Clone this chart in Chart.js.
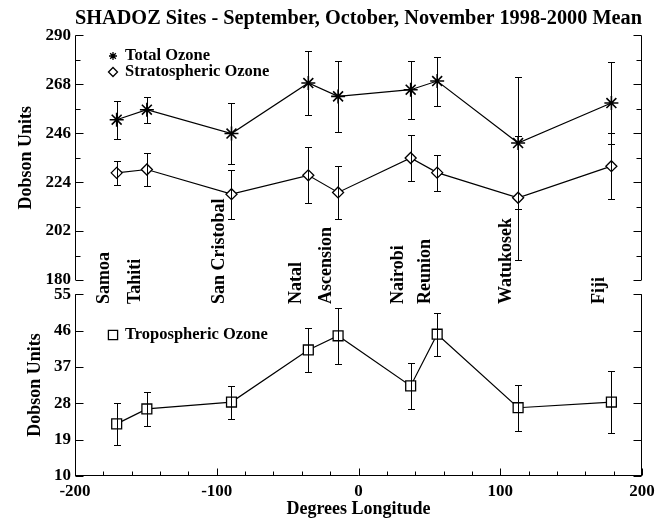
<!DOCTYPE html>
<html>
<head>
<meta charset="utf-8">
<script src="https://cdn.jsdelivr.net/npm/chart.js@4.4.0/dist/chart.umd.min.js"></script>
<style>
  body { margin: 0; background: #fff; }
  #marco { position: relative; width: 666px; height: 518px; }
  #marco canvas { position: absolute; left: 0; }
  #graficoArriba { top: 0; }
  #graficoAbajo { top: 280px; }
</style>
</head>
<body>
<div id="marco">
  <canvas id="graficoArriba" width="666" height="310"></canvas>
  <canvas id="graficoAbajo" width="666" height="238"></canvas>
</div>
<script>
// Datos (medias SON 1998-2000)
const estaciones = ['Samoa', 'Tahiti', 'San Cristobal', 'Natal', 'Ascension', 'Nairobi', 'Reunion', 'Watukosek', 'Fiji'];
const longitudes = [-170.6, -149.3, -89.6, -35.4, -14.4, 36.8, 55.5, 112.6, 178.4];

const ozonoTotal = [252.1, 256.6, 245.9, 268.6, 262.6, 265.6, 269.5, 241.6, 259.6];
const errorTotal = [8.6, 5.9, 13.8, 14.4, 16.0, 13.0, 11.0, 29.5, 18.3];
const ozonoEstrat = [228.2, 229.7, 218.6, 227.1, 219.4, 234.9, 228.3, 217.0, 231.2];
const errorEstrat = [5.4, 7.4, 11.0, 12.6, 12.0, 10.3, 8.1, 28.0, 14.8];
const ozonoTropo = [22.9, 26.6, 28.3, 41.2, 44.7, 32.3, 45.1, 26.9, 28.3];
const errorTropo = [5.2, 4.3, 4.1, 5.5, 7.0, 5.7, 5.3, 5.7, 7.7];

// Marcas de los ejes
const ticksArriba = [180, 202, 224, 246, 268, 290];
const ticksAbajo = [10, 19, 28, 37, 46, 55];
const ticksX = [-200, -100, 0, 100, 200];

const FUENTE = '"Liberation Serif", "Times New Roman", serif';
Chart.defaults.font.family = FUENTE;
Chart.defaults.font.weight = 'bold';
Chart.defaults.color = '#000';

function etiqueta(lista) {
    return (v) => lista.some(t => Math.abs(t - v) < 1e-6) ? String(v) : '';
}

function puntos(valores) {
    return longitudes.map((x, i) => ({ x: x, y: valores[i] }));
}

// Barras de error verticales con pequenos topes
const barrasError = {
    id: 'barrasError',
    afterDatasetsDraw(chart) {
        const { ctx } = chart;
        const x = chart.scales.x, y = chart.scales.y;
        ctx.save();
        ctx.strokeStyle = '#000';
        ctx.lineWidth = 1;
        chart.data.datasets.forEach(ds => {
            if (!ds.errores) return;
            ds.data.forEach((p, i) => {
                const px = Math.round(x.getPixelForValue(p.x)) + 0.5;
                const y1 = Math.round(y.getPixelForValue(p.y + ds.errores[i])) + 0.5;
                const y2 = Math.round(y.getPixelForValue(p.y - ds.errores[i])) + 0.5;
                ctx.beginPath();
                ctx.moveTo(px, y1); ctx.lineTo(px, y2);
                ctx.moveTo(px - 3.5, y1); ctx.lineTo(px + 3.5, y1);
                ctx.moveTo(px - 3.5, y2); ctx.lineTo(px + 3.5, y2);
                ctx.stroke();
            });
        });
        ctx.restore();
    }
};

// Ejes con marcas hacia dentro, leyenda y nombres de estaciones
const decoracion = {
    id: 'decoracion',
    afterDraw(chart, args, opts) {
        const { ctx, chartArea: a } = chart;
        const x = chart.scales.x, y = chart.scales.y;
        const L = Math.round(a.left) + 0.5, R = Math.round(a.right) - 0.5;
        const B = Math.round(a.bottom) - 0.5;
        ctx.save();
        ctx.strokeStyle = '#000';
        ctx.lineWidth = 1;
        ctx.beginPath();
        ctx.moveTo(L, a.top); ctx.lineTo(L, a.bottom);
        ctx.moveTo(R, a.top); ctx.lineTo(R, a.bottom);
        y.ticks.forEach(t => {
            const py = Math.round(y.getPixelForValue(t.value)) + 0.5;
            const largo = t.label !== '' ? 8 : 5;
            ctx.moveTo(L, py); ctx.lineTo(L + largo, py);
            ctx.moveTo(R, py); ctx.lineTo(R - largo, py);
        });
        if (opts.ejeX) {
            ctx.moveTo(L, B); ctx.lineTo(R, B);
            x.ticks.forEach(t => {
                const px = Math.round(x.getPixelForValue(t.value)) + 0.5;
                const largo = t.label !== '' ? 7 : 4;
                ctx.moveTo(px, B); ctx.lineTo(px, B - largo);
            });
        }
        ctx.stroke();

        // Leyenda
        ctx.font = 'bold 16.5px ' + FUENTE;
        ctx.textAlign = 'left';
        ctx.textBaseline = 'middle';
        ctx.fillStyle = '#000';
        (opts.leyenda || []).forEach(item => {
            ctx.save();
            ctx.fillStyle = '#fff';
            ctx.strokeStyle = '#000';
            ctx.lineWidth = 1.3;
            Chart.helpers.drawPoint(ctx, { pointStyle: item.estilo, radius: item.radio, rotation: 0, borderWidth: 1.3 }, item.x, item.y);
            ctx.restore();
            ctx.fillText(item.texto, item.x + 12, item.y);
        });

        // Nombres de las estaciones, verticales
        if (opts.estaciones) {
            ctx.font = 'bold 18px ' + FUENTE;
            estaciones.forEach((nombre, i) => {
                const px = x.getPixelForValue(longitudes[i]) - 12;
                ctx.save();
                ctx.translate(px, 304);
                ctx.rotate(-Math.PI / 2);
                ctx.fillText(nombre, 0, 0);
                ctx.restore();
            });
        }
        ctx.restore();
    }
};

function estiloSerie(etiquetaSerie, valores, errores, estilo, radio, grosor) {
    return {
        label: etiquetaSerie,
        data: puntos(valores),
        errores: errores,
        borderColor: '#000',
        borderWidth: 1.2,
        pointStyle: estilo,
        pointRadius: radio,
        pointBorderWidth: grosor,
        pointBorderColor: '#000',
        pointBackgroundColor: '#fff',
        fill: false,
        tension: 0
    };
}

// Panel superior: ozono total y estratosferico
new Chart(document.getElementById('graficoArriba'), {
    type: 'line',
    data: {
        datasets: [
            estiloSerie('Total Ozone', ozonoTotal, errorTotal, 'star', 7, 1.6),
            estiloSerie('Stratospheric Ozone', ozonoEstrat, errorEstrat, 'rectRot', 5.5, 1.3)
        ]
    },
    options: {
        responsive: false,
        animation: false,
        layout: { padding: { left: 0, right: 24, top: 0, bottom: 30 } },
        plugins: {
            legend: { display: false },
            tooltip: { enabled: false },
            title: {
                display: true,
                fullSize: false,
                text: 'SHADOZ Sites - September, October, November 1998-2000 Mean',
                font: { size: 20.4, weight: 'bold' },
                padding: { top: 6, bottom: 5 }
            },
            decoracion: {
                estaciones: true,
                leyenda: [
                    { estilo: 'star', radio: 4, texto: 'Total Ozone', x: 113, y: 56 },
                    { estilo: 'rectRot', radio: 4.5, texto: 'Stratospheric Ozone', x: 113, y: 72 }
                ]
            }
        },
        scales: {
            x: { type: 'linear', min: -200, max: 200, display: false },
            y: {
                min: 180, max: 290,
                afterFit: (s) => { s.width = 75; },
                grid: { display: false, drawTicks: false },
                border: { display: false },
                ticks: { stepSize: 11, padding: 4, font: { size: 17 }, callback: etiqueta(ticksArriba) },
                title: { display: true, text: 'Dobson Units', font: { size: 18 }, padding: { top: 16, bottom: 0 } }
            }
        }
    },
    plugins: [barrasError, decoracion]
});

// Panel inferior: ozono troposferico
new Chart(document.getElementById('graficoAbajo'), {
    type: 'line',
    data: {
        datasets: [
            estiloSerie('Tropospheric Ozone', ozonoTropo, errorTropo, 'rect', 7, 1.3)
        ]
    },
    options: {
        responsive: false,
        animation: false,
        layout: { padding: { left: 0, right: 24, top: 14, bottom: 0 } },
        plugins: {
            legend: { display: false },
            tooltip: { enabled: false },
            decoracion: {
                ejeX: true,
                leyenda: [
                    { estilo: 'rect', radio: 6.5, texto: 'Tropospheric Ozone', x: 113, y: 55 }
                ]
            }
        },
        scales: {
            x: {
                type: 'linear', min: -200, max: 200,
                afterFit: (s) => { s.height = 42; },
                grid: { display: false, drawTicks: false },
                border: { display: false },
                ticks: { stepSize: 20, autoSkip: false, maxRotation: 0, padding: 5, font: { size: 17 }, callback: etiqueta(ticksX) },
                title: { display: true, text: 'Degrees Longitude', font: { size: 18, lineHeight: 1.0 }, padding: { top: 0, bottom: 0 } }
            },
            y: {
                min: 10, max: 55,
                afterFit: (s) => { s.width = 75; },
                grid: { display: false, drawTicks: false },
                border: { display: false },
                ticks: { stepSize: 4.5, padding: 4, font: { size: 17 }, callback: etiqueta(ticksAbajo) },
                title: { display: true, text: 'Dobson Units', font: { size: 18 }, padding: { top: 25, bottom: 0 } }
            }
        }
    },
    plugins: [barrasError, decoracion]
});
</script>
</body>
</html>
